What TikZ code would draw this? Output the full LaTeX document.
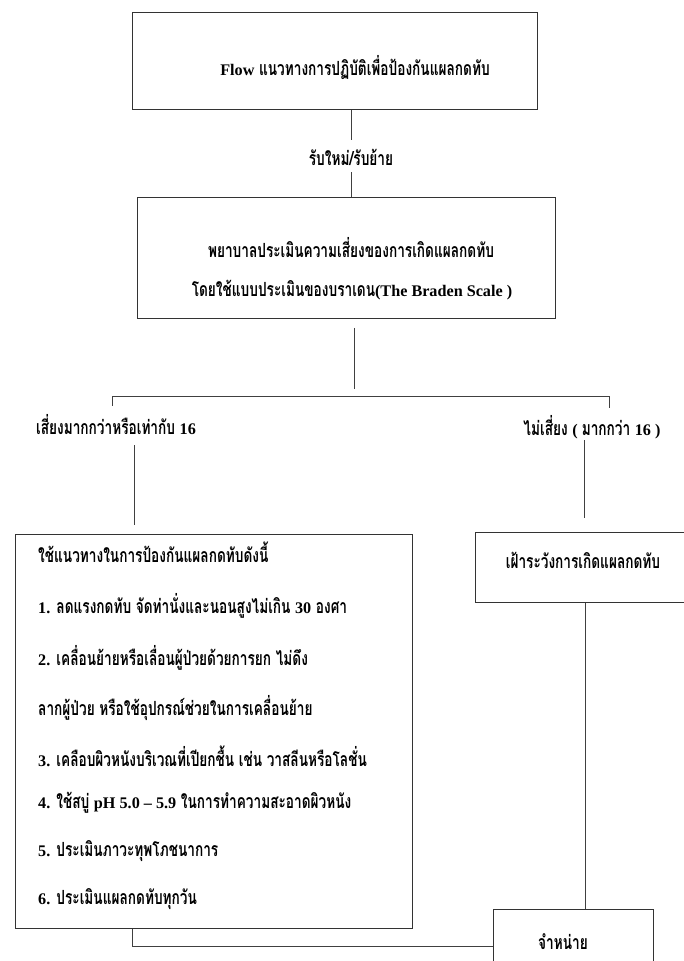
\documentclass[tikz,border=0pt]{standalone}
\usepackage{fontspec}
\setmainfont{Liberation Serif}
\newfontfamily\thai[Script=Thai,FakeStretch=0.70]{Loma}
\newfontfamily\latn[Scale=0.83]{Liberation Serif}
\newcommand\eng[1]{{\latn\bfseries #1}}
\tikzset{
  box/.style={draw=black!80, line width=0.8pt, inner sep=0pt, anchor=north west},
  lbl/.style={font=\thai\bfseries\fontsize{19.5}{22}\selectfont, inner sep=0pt, text=black},
  conn/.style={draw=black!75, line width=0.7pt},
}
\begin{document}
\begin{tikzpicture}[x=1pt,y=-1pt]
\useasboundingbox[fill=white] (0,0) rectangle (684,961);
% boxes
\node[box, minimum width=405pt, minimum height=97pt] (b1) at (132,12) {};
\node[box, minimum width=418pt, minimum height=121pt] (b2) at (137,197) {};
\node[box, minimum width=397pt, minimum height=394pt] (b3) at (15,534) {};
\node[box, minimum width=230pt, minimum height=70pt] (b4) at (475,532) {};
\node[box, minimum width=160pt, minimum height=80pt] (b5) at (493,909) {};
% texts
\node[lbl] (t1) at (355,68) {\eng{Flow} แนวทางการปฏิบัติเพื่อป้องกันแผลกดทับ};
\node[lbl] (t2) at (351,157) {รับใหม่/รับย้าย};
\node[lbl] (t3) at (351,248) {พยาบาลประเมินความเสี่ยงของการเกิดแผลกดทับ};
\node[lbl] (t4) at (352,290) {โดยใช้แบบประเมินของบราเดน\eng{(The Braden Scale )}};
\node[lbl] (l1) at (116,425) {เสี่ยงมากกว่าหรือเท่ากับ \eng{16}};
\node[lbl] (l2) at (592,427) {ไม่เสี่ยง \eng{( }มากกว่า \eng{16 )}};
\node[lbl, anchor=west] (p0) at (38,552) {ใช้แนวทางในการป้องกันแผลกดทับดังนี้};
\node[lbl, anchor=west] (p1) at (38,606) {\eng{1.} ลดแรงกดทับ จัดท่านั่งและนอนสูงไม่เกิน \eng{30} องศา};
\node[lbl, anchor=west] (p2) at (38,658) {\eng{2.} เคลื่อนย้ายหรือเลื่อนผู้ป่วยด้วยการยก ไม่ดึง};
\node[lbl, anchor=west] (p2b) at (38,708) {ลากผู้ป่วย หรือใช้อุปกรณ์ช่วยในการเคลื่อนย้าย};
\node[lbl, anchor=west] (p3) at (38,756) {\eng{3.} เคลือบผิวหนังบริเวณที่เปียกชื้น เช่น วาสลีนหรือโลชั่น};
\node[lbl, anchor=west] (p4) at (38,803) {\eng{4.} ใช้สบู่ \eng{pH 5.0 – 5.9} ในการทำความสะอาดผิวหนัง};
\node[lbl, anchor=west] (p5) at (38,851) {\eng{5.} ประเมินภาวะทุพโภชนาการ};
\node[lbl, anchor=west] (p6) at (38,899) {\eng{6.} ประเมินแผลกดทับทุกวัน};
\node[lbl] (t5) at (583,560) {เฝ้าระวังการเกิดแผลกดทับ};
\node[lbl] (t6) at (563,942) {จำหน่าย};
% coordinates
\coordinate (m1) at (351,140);
\coordinate (m2) at (351,172);
\coordinate (hL) at (112,396);
\coordinate (hR) at (609,396);
\coordinate (hM) at (354,396);
\coordinate (cL) at (134,445);
\coordinate (cR) at (584,440);
\coordinate (cB) at (132,946);
\coordinate (cD) at (585,0);
% connectors
\draw[conn] (m1 |- b1.south) -- (m1);
\draw[conn] (m2) -- (m2 |- b2.north);
\draw[conn, shorten <=9pt, shorten >=7pt] (hM |- b2.south) -- (hM);
\draw[conn] (hL) -- (hR);
\draw[conn] (hL) -- ++(0,10);
\draw[conn] (hR) -- ++(0,12);
\draw[conn, shorten >=9pt] (cL) -- (cL |- b3.north);
\draw[conn, shorten >=14pt] (cR) -- (cR |- b4.north);
\draw[conn] (cD |- b4.south) -- (cD |- b5.north);
\draw[conn] (cB |- b3.south) -- (cB) -- (cB -| b5.west);
\end{tikzpicture}
\end{document}
